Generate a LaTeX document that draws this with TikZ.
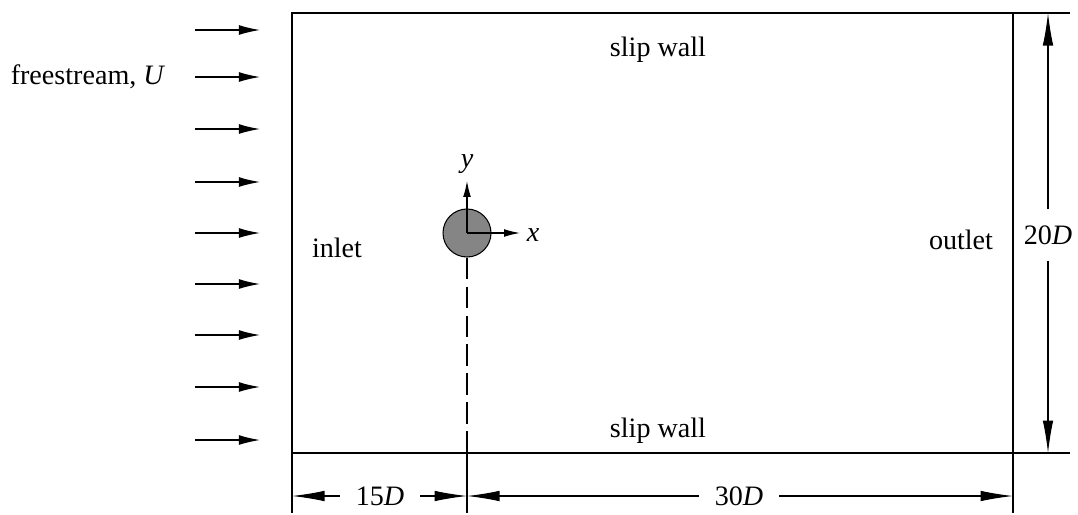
\documentclass[tikz,border=0pt]{standalone}
\usepackage{fontspec}
\setmainfont{Liberation Serif}
\usetikzlibrary{arrows.meta}

\begin{document}
\begin{tikzpicture}[x=0.02cm, y=-0.02cm, line join=miter,
  font=\fontsize{16}{19}\selectfont,
  flowarrow/.style={-{Latex[length=12pt,width=5.6pt]}, line width=0.7pt},
  axisarrow/.style={-{Latex[length=9pt,width=4.4pt]}, line width=0.7pt},
  dimarrow/.style={-{Latex[length=18.5pt,width=6pt]}, line width=0.6pt},
  extline/.style={line width=0.6pt},
  dimlabel/.style={inner xsep=9pt, inner ysep=9pt}]

% ----------------------------
% PARAMETERS (pixel grid)
% ----------------------------
\def\xL{292}      % inlet
\def\xR{1013}     % outlet
\def\yT{13}       % upper wall
\def\yB{453}      % lower wall
\def\xC{467}      % cylinder centre
\def\yC{233}

\useasboundingbox (0,0) rectangle (1078,514);

\coordinate (NW) at (\xL,\yT);
\coordinate (NE) at (\xR,\yT);
\coordinate (SW) at (\xL,\yB);
\coordinate (SE) at (\xR,\yB);
\coordinate (Cb) at (\xC,\yB);

% ----------------------------
% COMPUTATIONAL DOMAIN
% ----------------------------
\draw[line width=1.4pt] (NW) rectangle (SE);

\node (wallT) at (658,50) {slip wall};
\node (wallB) at (658,431) {slip wall};
\node (inlet) at (337,248) {inlet};
\node (outlet) at (961,240) {outlet};

% ----------------------------
% FREESTREAM ARROWS
% ----------------------------
\foreach \yy [count=\i] in {30,77,129,182,233,284,335,387,440}{
  \coordinate (fs\i) at (195,\yy);
  \draw[flowarrow] (fs\i) -- ++(65,0);
}
\node (fslabel) at (88,77) {freestream, \textit{U}};

% ----------------------------
% CYLINDER AND AXES
% ----------------------------
\node (cyl) [circle, draw, line width=0.6pt, fill=black!48,
  minimum size=0.96cm, inner sep=0pt] at (\xC,\yC) {};
\coordinate (ytip) at (\xC,181);
\coordinate (xtip) at (520,\yC);
\draw[axisarrow] (cyl.center) -- (ytip);
\draw[axisarrow] (cyl.center) -- (xtip);
\node (ylab) at (\xC,164) {\textit{y}};
\node (xlab) at (533,235) {\textit{x}};

% dashed centre line down to the wall
\draw[extline, dash pattern=on 12.5pt off 4pt] (cyl.south) -- (Cb);

% ----------------------------
% EXTENSION LINES
% ----------------------------
\draw[extline] (SW) -- ++(0,60);
\draw[extline] (Cb) -- ++(0,60);
\draw[extline] (SE) -- ++(0,60);
\draw[extline] (NE) -- ++(57,0);
\draw[extline] (SE) -- ++(57,0);

% ----------------------------
% DIMENSIONS
% ----------------------------
\node[dimlabel] (d15) at (380,496) {15\textit{D}};
\draw[dimarrow] (d15.west) -- (\xL,496);
\draw[dimarrow] (d15.east) -- (\xC,496);

\node[dimlabel] (d30) at (739,496) {30\textit{D}};
\draw[dimarrow] (d30.west) -- (\xC,496);
\draw[dimarrow] (d30.east) -- (\xR,496);

\node[dimlabel] (d20) at (1048,235) {20\textit{D}};
\draw[dimarrow] (d20.north) -- (1048,\yT);
\draw[dimarrow] (d20.south) -- (1048,\yB);

\end{tikzpicture}
\end{document}
